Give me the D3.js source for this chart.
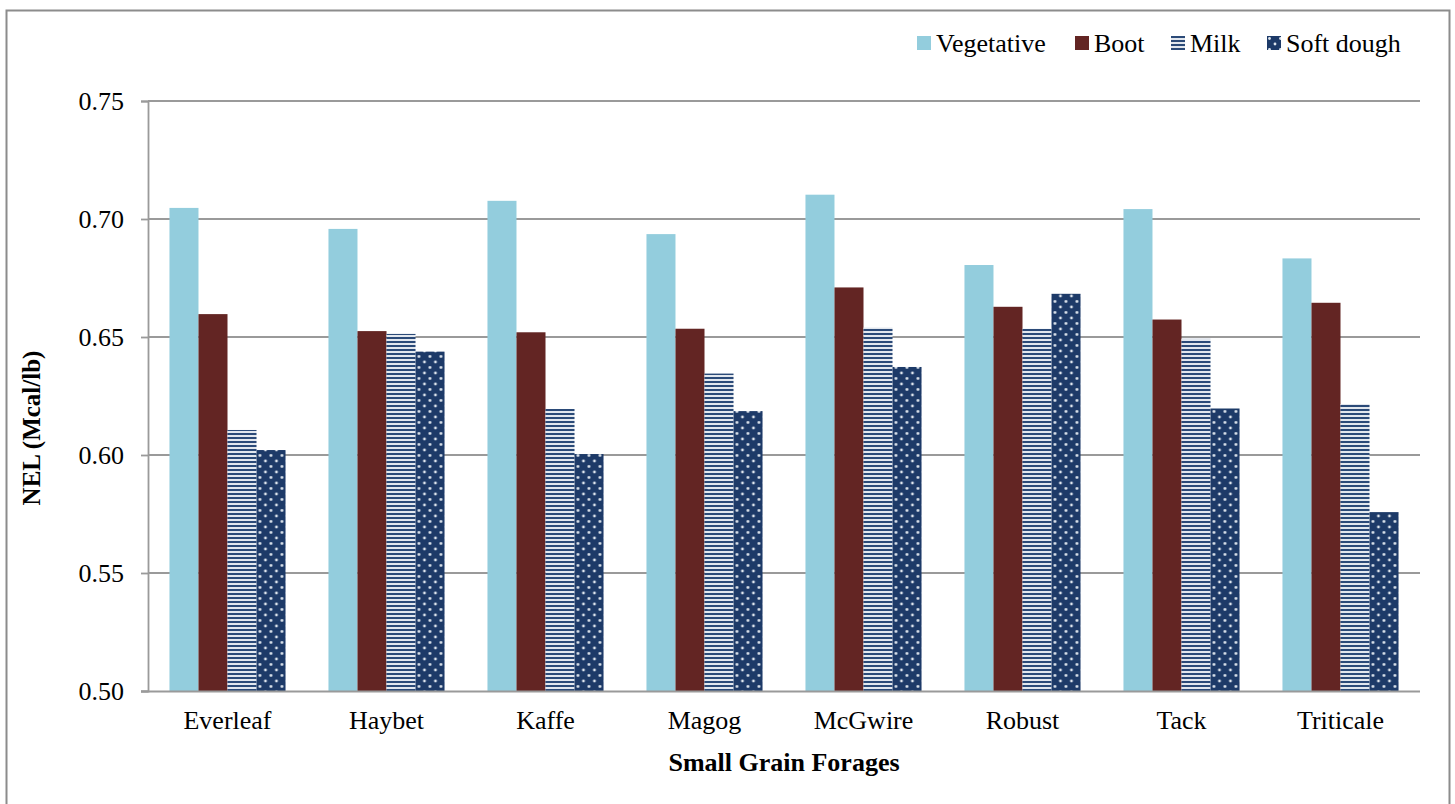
<!DOCTYPE html>
<html>
<head>
<meta charset="utf-8">
<script src="https://cdn.jsdelivr.net/npm/d3@7"></script>
<style>
  body { margin: 0; background: #fff; }
  svg text { font-family: "Liberation Serif", "Times New Roman", serif; fill: #000; }
</style>
</head>
<body>
<div id="chart"></div>
<script>
// chart values
const forages = ["Everleaf", "Haybet", "Kaffe", "Magog", "McGwire", "Robust", "Tack", "Triticale"];
const stages = ["Vegetative", "Boot", "Milk", "Soft dough"];
const vegetative = [0.7047, 0.6958, 0.7077, 0.6936, 0.7103, 0.6805, 0.7042, 0.6833];
const boot       = [0.6597, 0.6525, 0.6520, 0.6535, 0.6710, 0.6628, 0.6574, 0.6645];
const milk       = [0.6106, 0.6513, 0.6195, 0.6345, 0.6540, 0.6535, 0.6492, 0.6216];
const softDough  = [0.6021, 0.6438, 0.6004, 0.6186, 0.6373, 0.6683, 0.6197, 0.5758];
const yTicks = [0.50, 0.55, 0.60, 0.65, 0.70, 0.75];

const series = [vegetative, boot, milk, softDough];

// dimensions
const W = 1455, H = 804;
const margin = {top: 101, right: 35, bottom: 113, left: 148};
const width = W - margin.left - margin.right;
const height = H - margin.top - margin.bottom;
const FONT = "Liberation Serif";

const svg = d3.select("#chart").append("svg")
  .attr("width", W)
  .attr("height", H);

// patterns for Milk (stripes) and Soft dough (dots)
const defs = svg.append("defs");
const stripe = defs.append("pattern")
  .attr("id", "stripes")
  .attr("patternUnits", "userSpaceOnUse")
  .attr("width", 8).attr("height", 4);
stripe.append("rect").attr("width", 8).attr("height", 4).attr("fill", "#e2e7ee");
stripe.append("rect").attr("width", 8).attr("height", 2).attr("fill", "#2b4a78");

const dots = defs.append("pattern")
  .attr("id", "dots")
  .attr("patternUnits", "userSpaceOnUse")
  .attr("width", 11).attr("height", 11);
dots.append("rect").attr("width", 11).attr("height", 11).attr("fill", "#1d3a68");
dots.append("circle").attr("cx", 2.5).attr("cy", 2.5).attr("r", 1.4).attr("fill", "#dfe6ee");
dots.append("circle").attr("cx", 8).attr("cy", 8).attr("r", 1.4).attr("fill", "#dfe6ee");

const fills = ["#93cddd", "#632523", "url(#stripes)", "url(#dots)"];

// outer frame
svg.append("path")
  .attr("d", `M6.5,${H + 5} V10.5 H1449.5 V${H + 5}`)
  .attr("fill", "none")
  .attr("stroke", "#8c8c8c")
  .attr("stroke-width", 2);

const g = svg.append("g")
  .attr("transform", `translate(${margin.left},${margin.top})`);

// scales
const x0 = d3.scaleBand().domain(forages).range([0, width])
  .paddingInner(0.27).paddingOuter(0.135);
const x1 = d3.scaleBand().domain(stages).range([0, x0.bandwidth()]);
const y = d3.scaleLinear().domain([0.5, 0.75]).range([height, 0]);

// gridlines
g.selectAll(".grid")
  .data(yTicks.slice(1))
  .enter().append("line")
  .attr("class", "grid")
  .attr("x1", 0).attr("x2", width)
  .attr("y1", d => y(d)).attr("y2", d => y(d))
  .attr("stroke", "#9a9a9a")
  .attr("stroke-width", 1.8);

// bars
const rows = forages.map((f, i) => ({forage: f, values: stages.map((s, j) => ({stage: s, idx: j, value: series[j][i]}))}));

g.selectAll(".group")
  .data(rows)
  .enter().append("g")
  .attr("class", "group")
  .attr("transform", d => `translate(${x0(d.forage)},0)`)
  .selectAll("rect")
  .data(d => d.values)
  .enter().append("rect")
  .attr("x", d => x1(d.stage))
  .attr("width", x1.bandwidth())
  .attr("y", d => y(d.value))
  .attr("height", d => height - y(d.value))
  .attr("fill", d => fills[d.idx]);

// axes
const yAxis = d3.axisLeft(y).tickValues(yTicks).tickFormat(d3.format(".2f")).tickSize(7).tickPadding(17);
const yg = g.append("g").call(yAxis);
yg.select(".domain").attr("stroke", "#9a9a9a").attr("stroke-width", 1.8);
yg.selectAll(".tick line").attr("stroke", "#9a9a9a").attr("stroke-width", 1.8);
yg.selectAll(".tick text").attr("font-size", 26).attr("font-family", FONT).attr("fill", "#000");

const xAxis = d3.axisBottom(x0).tickSize(0).tickPadding(20);
const xg = g.append("g").attr("transform", `translate(0,${height})`).call(xAxis);
xg.select(".domain").attr("stroke", "#9a9a9a").attr("stroke-width", 1.8).attr("d", `M-7,0.5H${width}`);
xg.selectAll(".tick text").attr("font-size", 26).attr("font-family", FONT).attr("fill", "#000");

// axis titles
svg.append("text")
  .attr("x", margin.left + width / 2)
  .attr("y", 771)
  .attr("text-anchor", "middle")
  .attr("font-family", FONT)
  .attr("font-size", 26)
  .attr("font-weight", "bold")
  .text("Small Grain Forages");

svg.append("text")
  .attr("transform", `translate(40,428) rotate(-90)`)
  .attr("text-anchor", "middle")
  .attr("font-family", FONT)
  .attr("font-size", 25)
  .attr("font-weight", "bold")
  .text("NEL (Mcal/lb)");

// legend
const legendX = [917, 1075, 1171, 1267];
const legend = svg.append("g")
  .selectAll("g")
  .data(stages)
  .enter().append("g")
  .attr("transform", (d, i) => `translate(${legendX[i]},36)`);

legend.append("rect")
  .attr("width", 14).attr("height", 14)
  .attr("fill", (d, i) => fills[i]);

legend.append("text")
  .attr("x", 19)
  .attr("y", 7)
  .attr("dy", "0.35em")
  .attr("font-family", FONT)
  .attr("font-size", 26)
  .text(d => d);
</script>
</body>
</html>
